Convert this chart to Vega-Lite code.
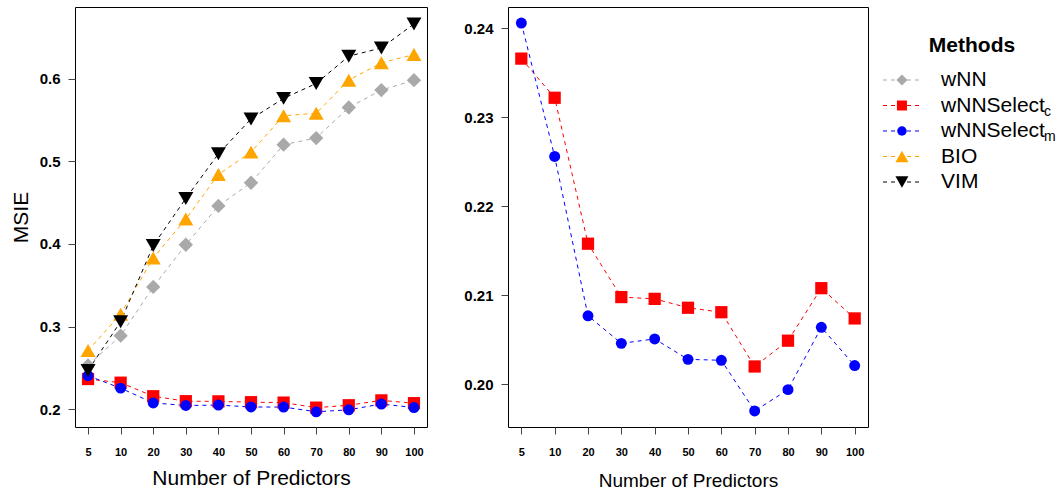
{
  "$schema": "https://vega.github.io/schema/vega-lite/v6.json",
  "padding": {"left": 9, "top": 6, "right": 0, "bottom": 0},
  "config": {
    "font": "Liberation Sans",
    "view": {"stroke": "black", "strokeWidth": 1},
    "axis": {
      "grid": false,
      "domain": false,
      "tickColor": "#444",
      "labelColor": "black",
      "titleColor": "black",
      "titleFontWeight": "normal"
    },
    "line": {"strokeWidth": 1, "strokeDash": [4, 4]},
    "point": {"filled": true, "opacity": 1}
  },
  "datasets": {
    "msie": [
      {"p": 5, "method": "wNN", "msie": 0.253},
      {"p": 10, "method": "wNN", "msie": 0.289},
      {"p": 20, "method": "wNN", "msie": 0.348},
      {"p": 30, "method": "wNN", "msie": 0.399},
      {"p": 40, "method": "wNN", "msie": 0.446},
      {"p": 50, "method": "wNN", "msie": 0.474},
      {"p": 60, "method": "wNN", "msie": 0.520},
      {"p": 70, "method": "wNN", "msie": 0.528},
      {"p": 80, "method": "wNN", "msie": 0.565},
      {"p": 90, "method": "wNN", "msie": 0.586},
      {"p": 100, "method": "wNN", "msie": 0.598},
      {"p": 5, "method": "wNNSelect_c", "msie": 0.2366},
      {"p": 10, "method": "wNNSelect_c", "msie": 0.2322},
      {"p": 20, "method": "wNNSelect_c", "msie": 0.2158},
      {"p": 30, "method": "wNNSelect_c", "msie": 0.2098},
      {"p": 40, "method": "wNNSelect_c", "msie": 0.2096},
      {"p": 50, "method": "wNNSelect_c", "msie": 0.2086},
      {"p": 60, "method": "wNNSelect_c", "msie": 0.2081},
      {"p": 70, "method": "wNNSelect_c", "msie": 0.2020},
      {"p": 80, "method": "wNNSelect_c", "msie": 0.2049},
      {"p": 90, "method": "wNNSelect_c", "msie": 0.2108},
      {"p": 100, "method": "wNNSelect_c", "msie": 0.2074},
      {"p": 5, "method": "wNNSelect_m", "msie": 0.2406},
      {"p": 10, "method": "wNNSelect_m", "msie": 0.2256},
      {"p": 20, "method": "wNNSelect_m", "msie": 0.2077},
      {"p": 30, "method": "wNNSelect_m", "msie": 0.2046},
      {"p": 40, "method": "wNNSelect_m", "msie": 0.2051},
      {"p": 50, "method": "wNNSelect_m", "msie": 0.2028},
      {"p": 60, "method": "wNNSelect_m", "msie": 0.2027},
      {"p": 70, "method": "wNNSelect_m", "msie": 0.1970},
      {"p": 80, "method": "wNNSelect_m", "msie": 0.1994},
      {"p": 90, "method": "wNNSelect_m", "msie": 0.2064},
      {"p": 100, "method": "wNNSelect_m", "msie": 0.2021},
      {"p": 5, "method": "BIO", "msie": 0.271},
      {"p": 10, "method": "BIO", "msie": 0.315},
      {"p": 20, "method": "BIO", "msie": 0.383},
      {"p": 30, "method": "BIO", "msie": 0.430},
      {"p": 40, "method": "BIO", "msie": 0.484},
      {"p": 50, "method": "BIO", "msie": 0.511},
      {"p": 60, "method": "BIO", "msie": 0.555},
      {"p": 70, "method": "BIO", "msie": 0.558},
      {"p": 80, "method": "BIO", "msie": 0.598},
      {"p": 90, "method": "BIO", "msie": 0.619},
      {"p": 100, "method": "BIO", "msie": 0.629},
      {"p": 5, "method": "VIM", "msie": 0.247},
      {"p": 10, "method": "VIM", "msie": 0.306},
      {"p": 20, "method": "VIM", "msie": 0.398},
      {"p": 30, "method": "VIM", "msie": 0.455},
      {"p": 40, "method": "VIM", "msie": 0.509},
      {"p": 50, "method": "VIM", "msie": 0.551},
      {"p": 60, "method": "VIM", "msie": 0.576},
      {"p": 70, "method": "VIM", "msie": 0.594},
      {"p": 80, "method": "VIM", "msie": 0.627},
      {"p": 90, "method": "VIM", "msie": 0.637},
      {"p": 100, "method": "VIM", "msie": 0.666}
    ],
    "methods": [
      {"method": "Methods", "label": "Methods", "sub": "", "kind": "header"},
      {"method": "wNN", "label": "wNN", "sub": "", "kind": "entry"},
      {"method": "wNNSelect_c", "label": "wNNSelect", "sub": "c", "kind": "entry"},
      {"method": "wNNSelect_m", "label": "wNNSelect", "sub": "m", "kind": "entry"},
      {"method": "BIO", "label": "BIO", "sub": "", "kind": "entry"},
      {"method": "VIM", "label": "VIM", "sub": "", "kind": "entry"}
    ]
  },
  "resolve": {"scale": {"size": "independent"}},
  "hconcat": [
    {
      "spacing": 35,
      "hconcat": [
        {
          "width": 352,
          "height": 420,
          "data": {"name": "msie"},
          "encoding": {
            "x": {
              "field": "p", "type": "ordinal",
              "scale": {"padding": 0.4},
              "axis": {
                "title": "Number of Predictors", "labelAngle": 0,
                "labelFontSize": 11, "labelFontWeight": "bold",
                "tickSize": 7, "labelPadding": 12,
                "titleFontSize": 21, "titlePadding": 10
              }
            },
            "y": {
              "field": "msie", "type": "quantitative",
              "scale": {"domain": [0.1786, 0.6865], "nice": false, "zero": false},
              "axis": {
                "title": "MSIE", "values": [0.2, 0.3, 0.4, 0.5, 0.6], "format": ".1f",
                "labelFontSize": 15, "labelFontWeight": "bold",
                "tickSize": 7, "labelPadding": 8,
                "titleFontSize": 21, "titlePadding": 8
              }
            },
            "color": {
              "field": "method", "type": "nominal",
              "scale": {
                "domain": ["wNN", "wNNSelect_c", "wNNSelect_m", "BIO", "VIM"],
                "range": ["#A9A9A9", "#FF0000", "#0000FF", "#FFA500", "#000000"]
              },
              "legend": null
            }
          },
          "layer": [
            {"mark": {"type": "line"}},
            {
              "mark": {"type": "point"},
              "encoding": {
                "shape": {
                  "field": "method", "type": "nominal",
                  "scale": {
                    "domain": ["wNN", "wNNSelect_c", "wNNSelect_m", "BIO", "VIM"],
                    "range": ["diamond", "square", "circle", "triangle-up", "triangle-down"]
                  },
                  "legend": null
                },
                "size": {
                  "field": "method", "type": "nominal",
                  "scale": {
                    "type": "ordinal",
                    "domain": ["wNN", "wNNSelect_c", "wNNSelect_m", "BIO", "VIM"],
                    "range": [205, 150, 120, 225, 225]
                  },
                  "legend": null
                }
              }
            }
          ]
        },
        {
          "width": 360,
          "height": 420,
          "data": {"name": "msie"},
          "transform": [
            {"filter": {"field": "method", "oneOf": ["wNNSelect_c", "wNNSelect_m"]}}
          ],
          "encoding": {
            "x": {
              "field": "p", "type": "ordinal",
              "scale": {"padding": 0.4},
              "axis": {
                "title": "Number of Predictors", "labelAngle": 0,
                "labelFontSize": 11, "labelFontWeight": "bold",
                "tickSize": 7, "labelPadding": 12,
                "titleFontSize": 19, "titlePadding": 14
              }
            },
            "y": {
              "field": "msie", "type": "quantitative",
              "scale": {"domain": [0.1952, 0.2424], "nice": false, "zero": false},
              "axis": {
                "title": null, "values": [0.20, 0.21, 0.22, 0.23, 0.24], "format": ".2f",
                "labelFontSize": 15, "labelFontWeight": "bold",
                "tickSize": 7, "labelPadding": 8
              }
            },
            "color": {
              "field": "method", "type": "nominal",
              "scale": {
                "domain": ["wNN", "wNNSelect_c", "wNNSelect_m", "BIO", "VIM"],
                "range": ["#A9A9A9", "#FF0000", "#0000FF", "#FFA500", "#000000"]
              },
              "legend": null
            }
          },
          "layer": [
            {"mark": {"type": "line"}},
            {
              "mark": {"type": "point"},
              "encoding": {
                "shape": {
                  "field": "method", "type": "nominal",
                  "scale": {
                    "domain": ["wNN", "wNNSelect_c", "wNNSelect_m", "BIO", "VIM"],
                    "range": ["diamond", "square", "circle", "triangle-up", "triangle-down"]
                  },
                  "legend": null
                },
                "size": {
                  "field": "method", "type": "nominal",
                  "scale": {
                    "type": "ordinal",
                    "domain": ["wNN", "wNNSelect_c", "wNNSelect_m", "BIO", "VIM"],
                    "range": [205, 150, 120, 225, 225]
                  },
                  "legend": null
                }
              }
            }
          ]
        }
      ]
    },
    {
      "width": 177,
      "height": 420,
      "view": {"stroke": null},
      "data": {"name": "methods"},
      "encoding": {
        "y": {
          "field": "method", "type": "ordinal",
          "scale": {
            "type": "point",
            "domain": ["Methods", "wNN", "wNNSelect_c", "wNNSelect_m", "BIO", "VIM"],
            "range": [47.5, 175], "padding": 0
          },
          "axis": null
        }
      },
      "layer": [
        {
          "transform": [{"filter": "datum.kind === 'entry'"}],
          "mark": {"type": "rule", "strokeDash": [4, 4], "strokeWidth": 1},
          "encoding": {
            "x": {"datum": 0, "type": "quantitative", "scale": {"domain": [0, 1], "nice": false, "zero": false}, "axis": null},
            "x2": {"datum": 0.226},
            "color": {"field": "method", "type": "nominal", "legend": null}
          }
        },
        {
          "transform": [{"filter": "datum.kind === 'entry'"}],
          "mark": {"type": "point"},
          "encoding": {
            "x": {"datum": 0.107, "type": "quantitative"},
            "color": {"field": "method", "type": "nominal", "legend": null},
            "shape": {"field": "method", "type": "nominal", "legend": null},
            "size": {
              "field": "method", "type": "nominal",
              "scale": {
                "type": "ordinal",
                "domain": ["wNN", "wNNSelect_c", "wNNSelect_m", "BIO", "VIM"],
                "range": [121, 100, 90, 169, 169]
              },
              "legend": null
            }
          }
        },
        {
          "transform": [{"filter": "datum.kind === 'entry'"}],
          "mark": {"type": "text", "align": "left", "baseline": "middle", "fontSize": 21, "color": "black"},
          "encoding": {
            "x": {"datum": 0.328, "type": "quantitative"},
            "text": {"field": "label"}
          }
        },
        {
          "transform": [{"filter": "datum.sub !== ''"}],
          "mark": {"type": "text", "align": "left", "baseline": "middle", "fontSize": 14, "dx": 103, "dy": 6, "color": "black"},
          "encoding": {
            "x": {"datum": 0.328, "type": "quantitative"},
            "text": {"field": "sub"}
          }
        },
        {
          "transform": [{"filter": "datum.kind === 'header'"}],
          "mark": {"type": "text", "align": "center", "baseline": "middle", "fontSize": 21, "fontWeight": "bold", "dy": -8.5, "color": "black"},
          "encoding": {
            "x": {"datum": 0.503, "type": "quantitative"},
            "text": {"field": "label"}
          }
        }
      ]
    }
  ],
  "spacing": 13
}
